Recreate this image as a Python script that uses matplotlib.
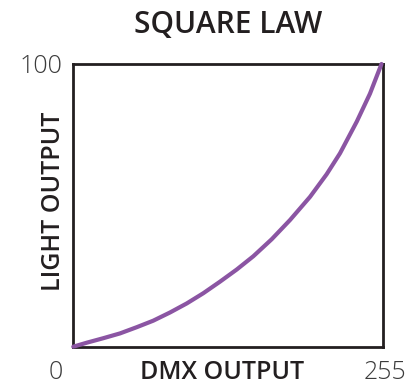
import matplotlib
matplotlib.use("Agg")
import matplotlib.pyplot as plt

# values (DMX level -> light output %)
dmx_level = [0, 11.0, 24.7, 38.5, 52.3, 65.9, 79.7, 93.5, 107.1, 120.9,
             134.7, 148.4, 163.5, 178.6, 195.1, 208.8, 219.8, 233.6, 244.5, 254]
light_out = [0, 1.4, 3.0, 4.7, 6.9, 9.2, 12.1, 15.3, 18.9, 23.0,
             27.3, 32.0, 38.0, 44.8, 53.0, 61.0, 68.4, 79.6, 89.5, 100]

x_limits = [0, 255]
y_limits = [0, 100]
title = "SQUARE LAW"
x_label = "DMX OUTPUT"
y_label = "LIGHT OUTPUT"

text_col = "#231f20"
num_col = "#3c3c3c"
curve_col = "#8b55a3"

fig = plt.figure(figsize=(4.2, 3.85), dpi=100)
ax = fig.add_axes([0.1745, 0.0995, 0.7367, 0.7343])

ax.plot(dmx_level, light_out, color=curve_col, lw=3.0,
        solid_capstyle="round", solid_joinstyle="round", clip_on=False, zorder=3)

ax.set_xlim(*x_limits)
ax.set_ylim(*y_limits)
for s in ax.spines.values():
    s.set_linewidth(2.0)
    s.set_color(text_col)
ax.set_xticks([])
ax.set_yticks([])

# end values of both scales, written at the corners
nums = dict(family="Open Sans", weight="light", fontsize=18, color=num_col,
            ha="center", va="baseline", clip_on=False)
ax.text(-14.7, -11.6, str(x_limits[0]), **nums)
ax.text(256.9, -11.6, str(x_limits[1]), **nums)
ax.text(-26.2, 96.8, str(y_limits[1]), **nums)

ax.set_title(title, fontsize=21.5, family="Open Sans", weight="semibold",
             color=text_col, pad=22)
ax.set_xlabel(x_label, fontsize=18, family="Open Sans", weight="semibold",
              color=text_col, va="baseline")
ax.set_ylabel(y_label, fontsize=18, family="Open Sans", weight="semibold",
              color=text_col, va="center")
ax.xaxis.set_label_coords(0.481, -0.116)
ax.yaxis.set_label_coords(-0.063, 0.515)

fig.savefig("out.png", dpi=100)
